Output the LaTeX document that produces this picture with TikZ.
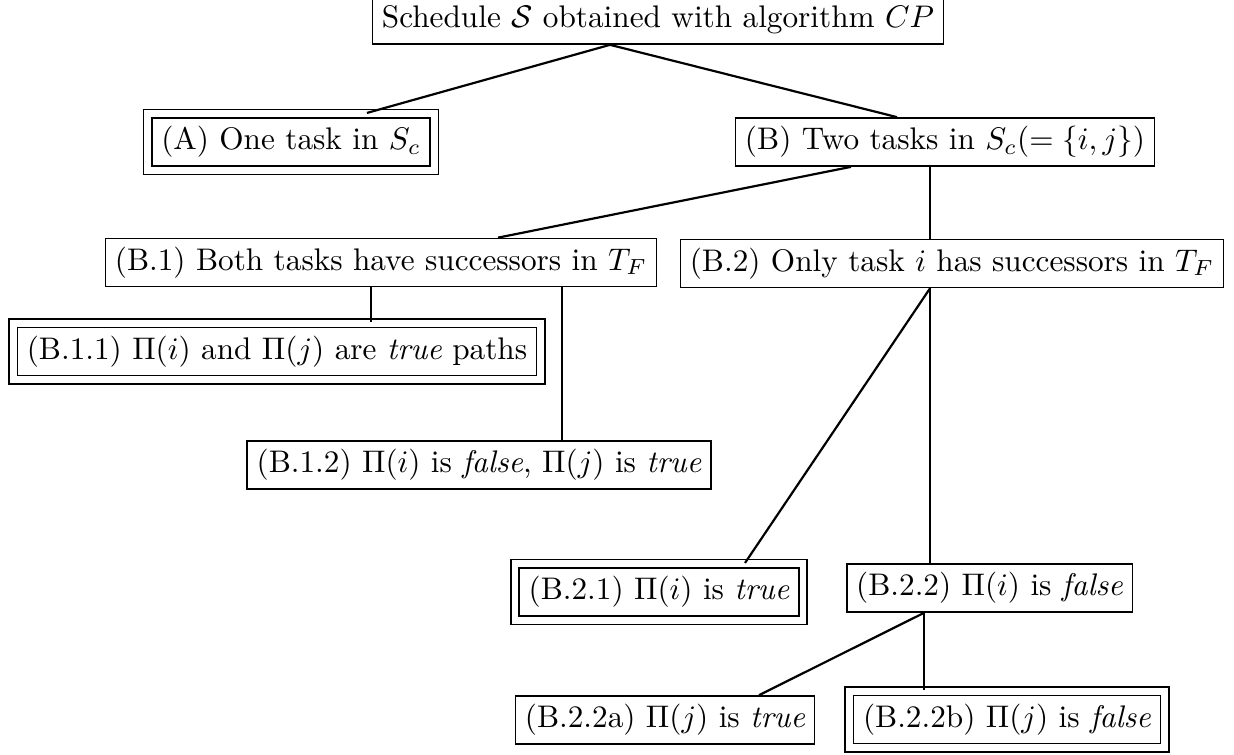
\documentclass[tikz,border=0pt]{standalone}
\begin{document}
\begin{tikzpicture}[x=0.32pt,y=-0.32pt,
  box/.style={draw, line width=0.5pt, inner xsep=3pt, inner ysep=2.7pt, text height=7.5pt, text depth=2.5pt},
  dbox/.style={box, double, double distance=2.2pt, inner xsep=4.35pt, inner ysep=4.05pt},
  link/.style={line width=0.7pt}]
\useasboundingbox (0,0) rectangle (1234,755);
\node[box]  (S)   at (658,20)    {Schedule $\mathcal{S}$ obtained with algorithm $CP$};
\node[dbox] (A)   at (291,142)   {(A) One task in $S_c$};
\node[box]  (B)   at (945,142)   {(B) Two tasks in $S_c(=\{i,j\})$};
\node[box]  (B1)  at (381,262.5) {(B.1) Both tasks have successors in $T_F$};
\node[box]  (B2)  at (952,263.5) {(B.2) Only task $i$ has successors in $T_F$};
\node[dbox] (B11) at (277,351.5) {(B.1.1) $\Pi(i)$ and $\Pi(j)$ are \textit{true} paths};
\node[box]  (B12) at (479,465)   {(B.1.2) $\Pi(i)$ is \textit{false}, $\Pi(j)$ is \textit{true}};
\node[dbox] (B21) at (659,592)   {(B.2.1) $\Pi(i)$ is \textit{true}};
\node[box,anchor=west] (B22) at (846,588) {(B.2.2) $\Pi(i)$ is \textit{false}};
\node[box]  (B22a) at (665,720)  {(B.2.2a) $\Pi(j)$ is \textit{true}};
\node[dbox] (B22b) at (1007,719.5) {(B.2.2b) $\Pi(j)$ is \textit{false}};
% connector x positions
\coordinate (xS)   at (610,0);
\coordinate (xA)   at (367,0);
\coordinate (xB)   at (897,0);
\coordinate (xBa)  at (851,0);
\coordinate (xB1)  at (498,0);
\coordinate (xB2)  at (930,0);
\coordinate (xB11) at (371,0);
\coordinate (xB12) at (562,0);
\coordinate (xB21) at (745,0);
\coordinate (xB22) at (924,0);
\coordinate (xB22a) at (759,0);
\draw[link] (S.south -| xS) -- (A.north -| xA);
\draw[link] (S.south -| xS) -- (B.north -| xB);
\draw[link] (B.south -| xBa) -- (B1.north -| xB1);
\draw[link] (B.south -| xB2) -- (B2.north -| xB2);
\draw[link] (B1.south -| xB11) -- (B11.north -| xB11);
\draw[link] (B1.south -| xB12) -- (B12.north -| xB12);
\draw[link] (B2.south -| xB2) -- (B21.north -| xB21);
\draw[link] (B2.south -| xB2) -- (B22.north -| xB2);
\draw[link] (B22.south -| xB22) -- (B22a.north -| xB22a);
\draw[link] (B22.south -| xB22) -- (B22b.north -| xB22);
\end{tikzpicture}
\end{document}
